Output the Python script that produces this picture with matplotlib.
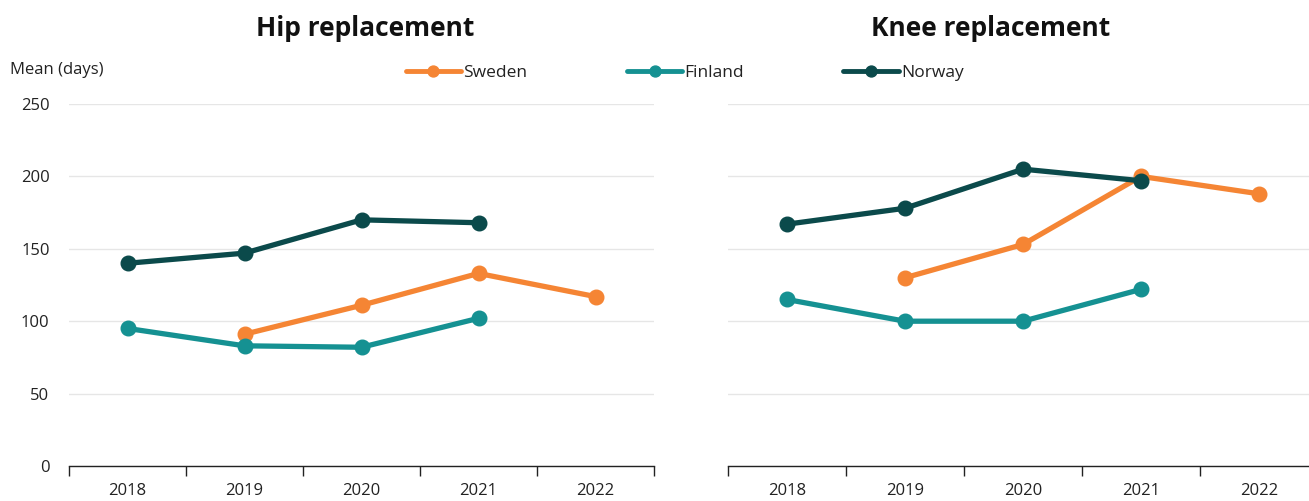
import numpy as np
import matplotlib.pyplot as plt
from matplotlib.ticker import FixedLocator, NullFormatter

plt.rcParams['font.family'] = ['Open Sans', 'DejaVu Sans']

years = ['2018', '2019', '2020', '2021', '2022']
countries = ['Sweden', 'Finland', 'Norway']
colors = {'Sweden': '#F58534', 'Finland': '#159192', 'Norway': '#0B4A4B'}

# None = no data for that year
hip = {
    'Sweden': [None, 91, 111, 133, 117],
    'Finland': [95, 83, 82, 102, None],
    'Norway': [140, 147, 170, 168, None],
}
knee = {
    'Sweden': [None, 130, 153, 200, 188],
    'Finland': [115, 100, 100, 122, None],
    'Norway': [167, 178, 205, 197, None],
}
panels = [('Hip replacement', hip), ('Knee replacement', knee)]

W, H = 1309, 501
fig = plt.figure(figsize=(W / 100, H / 100), dpi=100)
# axes boxes in pixels: left, right ; y of 0 and of 250
boxes = [(69, 654), (728, 1318)]
y0, y250 = 466, 104
title_x = [365, 991]

handles = {}
for (title, data), (xl, xr), tx in zip(panels, boxes, title_x):
    ax = fig.add_axes([xl / W, (H - y0) / H, (xr - xl) / W, (y0 - y250) / H])
    x = np.arange(len(years))
    for c in countries:
        vals = np.array([np.nan if v is None else v for v in data[c]], dtype=float)
        m = ~np.isnan(vals)
        ln, = ax.plot(x[m], vals[m], color=colors[c], lw=3.8, marker='o',
                      markersize=10.5, solid_capstyle='round', zorder=3)
        handles[c] = ln
    ax.set_xlim(-0.5, len(years) - 0.5)
    ax.set_ylim(0, 250)
    ax.set_yticks([0, 50, 100, 150, 200, 250])
    ax.yaxis.grid(True, color='#e6e6e6', lw=1)
    ax.set_axisbelow(True)
    for s in ['top', 'right', 'left']:
        ax.spines[s].set_visible(False)
    ax.spines['bottom'].set_color('#222222')
    ax.spines['bottom'].set_linewidth(1)
    ax.set_xticks(x)
    ax.set_xticklabels(years)
    ax.xaxis.set_minor_locator(FixedLocator(np.arange(-0.5, len(years), 1.0)))
    ax.xaxis.set_minor_formatter(NullFormatter())
    ax.tick_params(axis='x', which='major', length=0, pad=12, labelsize=12, labelcolor='#222222')
    ax.tick_params(axis='x', which='minor', length=7, width=1, color='#222222', direction='out')
    ax.tick_params(axis='y', length=0, labelsize=12, labelcolor='#222222', pad=14)
    if xl > 100:
        ax.tick_params(axis='y', labelleft=False)
    fig.text(tx / W, 1 - 28 / H, title, ha='center', va='center',
             fontsize=19, fontweight='bold', color='#111111')

fig.text(10 / W, 1 - 70 / H, 'Mean (days)', ha='left', va='center', fontsize=12, color='#222222')

leg = fig.legend([handles[c] for c in countries], countries, loc='center left',
                 bbox_to_anchor=(390 / W, 1 - 73 / H), ncol=3, frameon=False,
                 fontsize=12.5, handlelength=3.2, handletextpad=0.1, columnspacing=5.75,
                 markerscale=0.75, labelcolor='#222222')
for h in leg.legend_handles:
    h.set_linewidth(3.5)

fig.savefig('out.png', dpi=100)
